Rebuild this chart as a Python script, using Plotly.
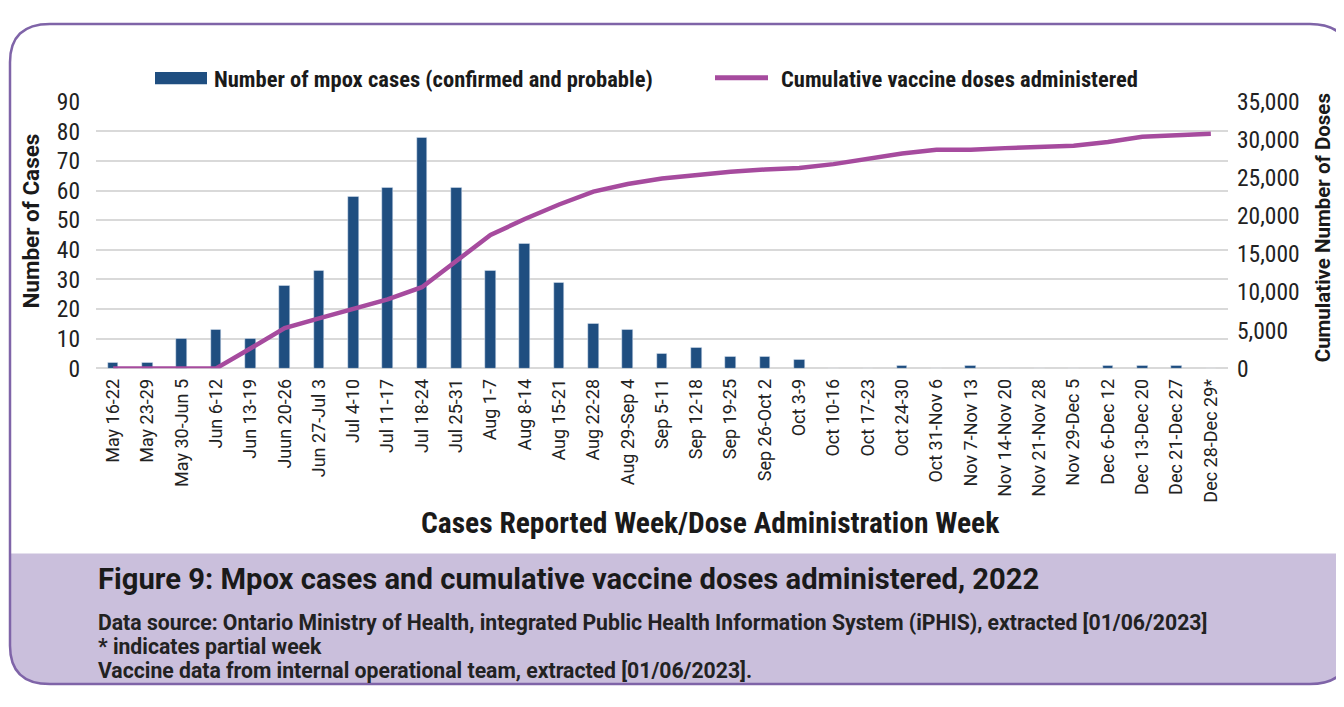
import plotly.graph_objects as go

# ---- data ----
weeks = [
    "May 16-22", "May 23-29", "May 30-Jun 5", "Jun 6-12", "Jun 13-19", "Juun 20-26",
    "Jun 27-Jul 3", "Jul 4-10", "Jul 11-17", "Jul 18-24", "Jul 25-31", "Aug 1-7",
    "Aug 8-14", "Aug 15-21", "Aug 22-28", "Aug 29-Sep 4", "Sep 5-11", "Sep 12-18",
    "Sep 19-25", "Sep 26-Oct 2", "Oct 3-9", "Oct 10-16", "Oct 17-23", "Oct 24-30",
    "Oct 31-Nov 6", "Nov 7-Nov 13", "Nov 14-Nov 20", "Nov 21-Nov 28", "Nov 29-Dec 5",
    "Dec 6-Dec 12", "Dec 13-Dec 20", "Dec 21-Dec 27", "Dec 28-Dec 29*",
]
cases = [2, 2, 10, 13, 10, 28, 33, 58, 61, 78, 61, 33, 42, 29, 15, 13, 5, 7, 4, 4, 3,
         0, 0, 1, 0, 1, 0, 0, 0, 1, 1, 1, 0]
doses = [0, 0, 0, 0, 2600, 5300, 6550, 7750, 9050, 10650, 14000, 17500, 19600, 21500,
         23200, 24200, 24900, 25400, 25800, 26100, 26300, 26800, 27500, 28200, 28700,
         28700, 28900, 29050, 29200, 29700, 30400, 30600, 30800]

bar_name = "Number of mpox cases (confirmed and probable)"
line_name = "Cumulative vaccine doses administered"
caption_title = "Figure 9: Mpox cases and cumulative vaccine doses administered, 2022"
caption_lines = [
    "Data source: Ontario Ministry of Health, integrated Public Health Information System (iPHIS), extracted [01/06/2023]",
    "* indicates partial week",
    "Vaccine data from internal operational team, extracted [01/06/2023].",
]

# the page body adds an 8px margin, so the figure is 16px smaller than the window
PAGE = 8
W, H = 1344 - 2 * PAGE, 707 - 2 * PAGE
BAR_COLOR = "#1f4e80"
LINE_COLOR = "#a64b9e"
NARROW = "Liberation Sans Narrow, Roboto Condensed, Roboto, sans-serif"
ROBOTO = "Roboto, sans-serif"


# positions below are measured on the full window, converted to paper here
def px(x):
    return (x - PAGE) / W


def py(y):
    return 1 - (y - PAGE) / H


fig = go.Figure()
fig.add_trace(go.Bar(x=weeks, y=cases, name=bar_name, marker_color=BAR_COLOR,
                     width=0.31, yaxis="y"))
fig.add_trace(go.Scatter(x=weeks, y=doses, name=line_name, mode="lines",
                         line=dict(color=LINE_COLOR, width=4.5), yaxis="y2"))

# ---- frame: rounded box with lavender caption band ----
L, T, R, B, r = 10, 10, 1350, 698, 40
band = 562
shapes = [
    dict(type="path", xref="paper", yref="paper", layer="below",
         path=(f"M {px(L)},{py(band)} L {px(R)},{py(band)} L {px(R)},{py(B - r)} "
               f"Q {px(R)},{py(B)} {px(R - r)},{py(B)} L {px(L + r)},{py(B)} "
               f"Q {px(L)},{py(B)} {px(L)},{py(B - r)} Z"),
         fillcolor="#cabfdc", line=dict(width=0)),
    dict(type="path", xref="paper", yref="paper", layer="above",
         path=(f"M {px(L + r)},{py(T)} L {px(R - r)},{py(T)} Q {px(R)},{py(T)} {px(R)},{py(T + r)} "
               f"L {px(R)},{py(B - r)} Q {px(R)},{py(B)} {px(R - r)},{py(B)} "
               f"L {px(L + r)},{py(B)} Q {px(L)},{py(B)} {px(L)},{py(B - r)} "
               f"L {px(L)},{py(T + r)} Q {px(L)},{py(T)} {px(L + r)},{py(T)} Z"),
         line=dict(color="#7f64a8", width=2.5)),
    # legend swatches
    dict(type="rect", xref="paper", yref="paper",
         x0=px(155), x1=px(207), y0=py(60), y1=py(73),
         fillcolor=BAR_COLOR, line=dict(width=0)),
    dict(type="line", xref="paper", yref="paper",
         x0=px(715), x1=px(768), y0=py(66), y1=py(66),
         line=dict(color=LINE_COLOR, width=5)),
]

annotations = [
    dict(text=bar_name, x=px(212), y=py(67), xanchor="left", yanchor="middle",
         font=dict(family=NARROW, size=22.5, color="#1a1a1a", weight="bold")),
    dict(text=line_name, x=px(779), y=py(67), xanchor="left", yanchor="middle",
         font=dict(family=NARROW, size=22.5, color="#1a1a1a", weight="bold")),
    dict(text="Number of Cases", x=px(31), y=py(216), textangle=-90,
         xanchor="center", yanchor="middle",
         font=dict(family=ROBOTO, size=22.5, color="#1a1a1a", weight="bold")),
    dict(text="Cumulative Number of Doses", x=px(1323), y=py(223), textangle=-90,
         xanchor="center", yanchor="middle",
         font=dict(family=ROBOTO, size=20.5, color="#1a1a1a", weight="bold")),
    dict(text="Cases Reported Week/Dose Administration Week", x=px(710), y=py(530),
         xanchor="center", yanchor="middle",
         font=dict(family=NARROW, size=29.5, color="#1a1a1a", weight="bold")),
    dict(text=caption_title, x=px(96), y=py(589), xanchor="left", yanchor="middle",
         font=dict(family=ROBOTO, size=29.2, color="#1a1a1a", weight="bold")),
]
for i, line in enumerate(caption_lines):
    annotations.append(dict(text=line, x=px(96), y=py(634 + 25 * i),
                            xanchor="left", yanchor="middle",
                            font=dict(family=ROBOTO, size=21.2, color="#222222", weight="bold")))
for a in annotations:
    a.update(xref="paper", yref="paper", showarrow=False)

fig.update_layout(
    width=W, height=H, autosize=False,
    margin=dict(l=0, r=0, t=0, b=0),
    paper_bgcolor="white", plot_bgcolor="rgba(0,0,0,0)",
    showlegend=False, bargap=0,
    shapes=shapes, annotations=annotations,
    xaxis=dict(domain=[px(96), px(1228)], type="category", range=[-0.5, 32.5],
               showgrid=False, zeroline=False, showline=False, ticks="",
               tickangle=-90, ticklabelstandoff=6,
               tickfont=dict(family=ROBOTO, size=18, color="#222222")),
    yaxis=dict(domain=[py(369), py(91)], range=[0, 90], dtick=10,
               showgrid=True, gridcolor="#d9d9d9", gridwidth=2,
               zeroline=True, zerolinecolor="#d9d9d9", zerolinewidth=2,
               showline=False, ticks="", ticklabelstandoff=15,
               tickfont=dict(family=NARROW, size=23.5, color="#222222")),
    yaxis2=dict(overlaying="y", side="right", range=[0, 35000], dtick=5000,
                tickformat=",", showgrid=False, zeroline=False, showline=False,
                ticks="", ticklabelstandoff=8,
                tickfont=dict(family=NARROW, size=23.5, color="#222222")),
)

fig.write_html("out.html")
